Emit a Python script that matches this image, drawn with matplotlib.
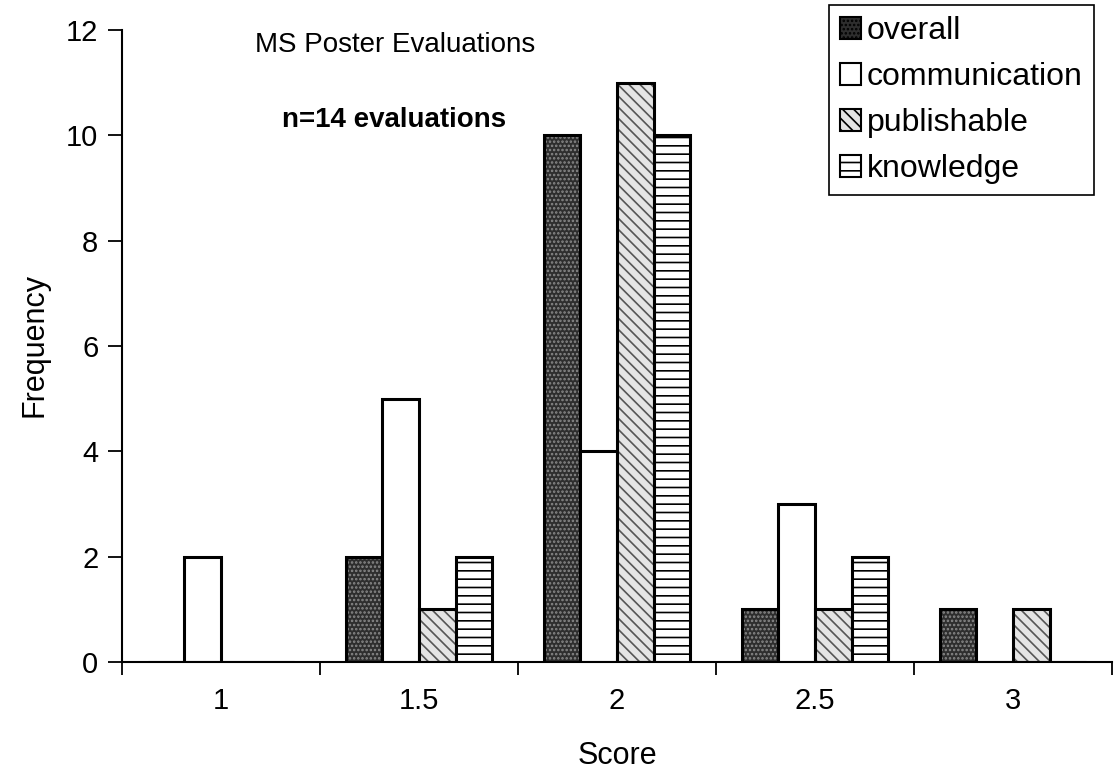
import numpy as np
import matplotlib
matplotlib.use('Agg')
import matplotlib.pyplot as plt
from matplotlib.patches import Patch

plt.rcParams['font.family'] = ['Liberation Sans', 'DejaVu Sans']
plt.rcParams['hatch.linewidth'] = 1.2

# Data
scores = ['1', '1.5', '2', '2.5', '3']
series = ['overall', 'communication', 'publishable', 'knowledge']
overall = [0, 2, 10, 1, 1]
communication = [2, 5, 4, 3, 0]
publishable = [0, 1, 11, 1, 1]
knowledge = [0, 2, 10, 2, 0]
values = [overall, communication, publishable, knowledge]

# fill colour, hatch, hatch colour for each series
styles = [
    ('#2e2e2e', '....', '#8a8a8a'),
    ('white', '', 'white'),
    ('#e4e4e4', '\\\\\\', '#555555'),
    ('white', '--', 'black'),
]

fig = plt.figure(figsize=(11.17, 7.82), dpi=100)
ax = fig.add_axes([122 / 1117, 1 - 662 / 782, 990 / 1117, 632 / 782])

x = np.arange(len(scores))
w = 0.185
for i, vals in enumerate(values):
    fc, hatch, hc = styles[i]
    pos = x + (i - 1.5) * w
    # fill + hatch first, then a black outline on top
    ax.bar(pos, vals, w, color=fc, hatch=hatch, edgecolor=hc, linewidth=0)
    ax.bar(pos, vals, w, fill=False, edgecolor='black', linewidth=2.2)

ax.set_xlim(-0.5, len(scores) - 0.5)
ax.set_ylim(0, 12)
ax.set_yticks(range(0, 13, 2))
ax.set_xticks(np.arange(-0.5, len(scores), 1.0))
ax.set_xticklabels([])
ax.set_xticks(x, minor=True)
ax.set_xticklabels(scores, minor=True)
ax.tick_params(axis='x', which='major', direction='out', length=9, width=1.3)
ax.tick_params(axis='x', which='minor', length=0, pad=18, labelsize=21)
ax.tick_params(axis='y', direction='out', length=10, width=1.3, pad=7, labelsize=21)

for s in ['top', 'right']:
    ax.spines[s].set_visible(False)
for s in ['left', 'bottom']:
    ax.spines[s].set_linewidth(1.5)

fig.text(34 / 1117, 1 - 345 / 782, 'Frequency', rotation=90, ha='center', va='center', fontsize=22)
fig.text(617 / 1117, 1 - 756 / 782, 'Score', ha='center', va='center', fontsize=22)
fig.text(395 / 1117, 1 - 45 / 782, 'MS Poster Evaluations', ha='center', va='center', fontsize=20)
fig.text(394 / 1117, 1 - 120 / 782, 'n=14 evaluations', ha='center', va='center',
         fontsize=20, fontweight='bold')

handles = [Patch(facecolor=fc, hatch=h, edgecolor='black', linewidth=1.5)
           for fc, h, hc in styles]
leg = fig.legend(handles, series, loc='upper right',
                 bbox_to_anchor=(1094 / 1117, 1 - 5 / 782),
                 fontsize=23, fancybox=False, edgecolor='black', framealpha=1,
                 handlelength=0.65, handleheight=0.65, handletextpad=0.2,
                 labelspacing=0.5, borderpad=0.35, borderaxespad=0)
leg.get_frame().set_linewidth(1.2)

plt.savefig('out.png', dpi=100)
